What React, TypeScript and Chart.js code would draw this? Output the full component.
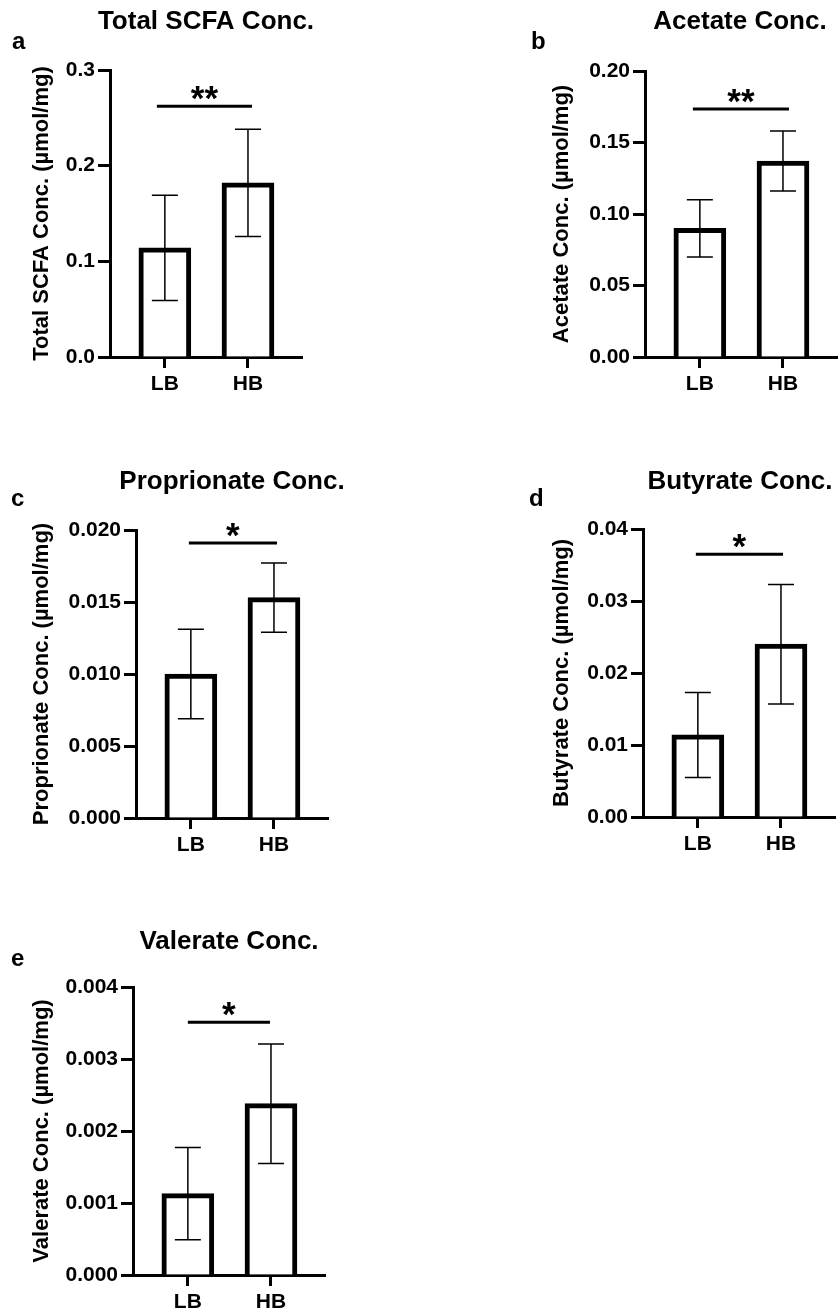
import React, { useEffect, useRef } from 'react';
import { Chart, registerables } from 'chart.js';

Chart.register(...registerables);
Chart.defaults.font.family = '"Liberation Sans", Arial, Helvetica, sans-serif';
Chart.defaults.color = '#000';

// ---------- data ----------
const categories = ['LB', 'HB'];

const totalMeans = [0.114, 0.182];
const totalSD = [0.055, 0.056];
const totalTicks = ['0.0', '0.1', '0.2', '0.3'];

const acetateMeans = [0.090, 0.137];
const acetateSD = [0.020, 0.021];
const acetateTicks = ['0.00', '0.05', '0.10', '0.15', '0.20'];

const propionateMeans = [0.0100, 0.0153];
const propionateSD = [0.0031, 0.0024];
const propionateTicks = ['0.000', '0.005', '0.010', '0.015', '0.020'];

const butyrateMeans = [0.0114, 0.0240];
const butyrateSD = [0.0059, 0.0083];
const butyrateTicks = ['0.00', '0.01', '0.02', '0.03', '0.04'];

const valerateMeans = [0.00113, 0.00238];
const valerateSD = [0.00064, 0.00083];
const valerateTicks = ['0.000', '0.001', '0.002', '0.003', '0.004'];

const panelTitles = ['Total SCFA Conc.', 'Acetate Conc.', 'Proprionate Conc.', 'Butyrate Conc.', 'Valerate Conc.'];
const yTitles = [
  'Total SCFA Conc. (µmol/mg)',
  'Acetate Conc. (µmol/mg)',
  'Proprionate Conc. (µmol/mg)',
  'Butyrate Conc. (µmol/mg)',
  'Valerate Conc. (µmol/mg)',
];
const panelLetters = ['a', 'b', 'c', 'd', 'e'];
const sigLabels = ['**', '**', '*', '*', '*'];
const sigHeights = [0.262, 0.1734, 0.0191, 0.0365, 0.00351];
const sigStarts = [-0.096, -0.084, -0.024, -0.024, 0];
const sigEnds = [1.048, 1.072, 1.036, 1.024, 0.988];

const panelData = [
  { means: totalMeans, sd: totalSD, ticks: totalTicks },
  { means: acetateMeans, sd: acetateSD, ticks: acetateTicks },
  { means: propionateMeans, sd: propionateSD, ticks: propionateTicks },
  { means: butyrateMeans, sd: butyrateSD, ticks: butyrateTicks },
  { means: valerateMeans, sd: valerateSD, ticks: valerateTicks },
];

// ---------- layout (page pixels) ----------
const layouts = [
  { cx: 0, cy: 0, cw: 419, ch: 420, axisX: 110, yTop: 70, y0: 357, titleX: 206, titleY: 29, letterX: 12, letterY: 49, yTitleX: 42 },
  { cx: 419, cy: 0, cw: 419, ch: 420, axisX: 645, yTop: 71, y0: 357, titleX: 740, titleY: 29, letterX: 531, letterY: 49, yTitleX: 562 },
  { cx: 0, cy: 420, cw: 419, ch: 460, axisX: 136, yTop: 530, y0: 818, titleX: 232, titleY: 489, letterX: 11, letterY: 506, yTitleX: 42 },
  { cx: 419, cy: 420, cw: 419, ch: 460, axisX: 643, yTop: 529, y0: 817, titleX: 740, titleY: 489, letterX: 529, letterY: 506, yTitleX: 562 },
  { cx: 0, cy: 880, cw: 419, ch: 432, axisX: 133, yTop: 987, y0: 1275, titleX: 229, titleY: 949, letterX: 11, letterY: 966, yTitleX: 42 },
];

const AXIS_LEN = 192;
const X_BOX = 36;
const FONT = '"Liberation Sans", Arial, Helvetica, sans-serif';

function Panel({ idx }: { idx: number }) {
  const ref = useRef<HTMLCanvasElement | null>(null);

  useEffect(() => {
    const L = layouts[idx];
    const P = panelData[idx];
    const yTitleFont = 22;
    const decor = {
      id: 'decor' + idx,
      afterDatasetsDraw(chart: any) {
        const ctx = chart.ctx;
        const xs = chart.scales.x;
        const ys = chart.scales.y;
        ctx.save();
        ctx.strokeStyle = '#000';
        ctx.fillStyle = '#000';
        ctx.lineWidth = 1.5;
        P.means.forEach((m: number, i: number) => {
          const x = xs.getPixelForValue(i);
          const yh = ys.getPixelForValue(m + P.sd[i]);
          const yl = ys.getPixelForValue(m - P.sd[i]);
          ctx.beginPath();
          ctx.moveTo(x, yh);
          ctx.lineTo(x, yl);
          ctx.moveTo(x - 13, yh);
          ctx.lineTo(x + 13, yh);
          ctx.moveTo(x - 13, yl);
          ctx.lineTo(x + 13, yl);
          ctx.stroke();
        });
        // significance bar
        const sy = ys.getPixelForValue(sigHeights[idx]);
        const sx1 = xs.getPixelForValue(sigStarts[idx]);
        const sx2 = xs.getPixelForValue(sigEnds[idx]);
        ctx.lineWidth = 3;
        ctx.beginPath();
        ctx.moveTo(sx1, sy);
        ctx.lineTo(sx2, sy);
        ctx.stroke();
        ctx.font = `bold 35px ${FONT}`;
        ctx.textAlign = 'center';
        ctx.textBaseline = 'alphabetic';
        ctx.fillText(sigLabels[idx], (sx1 + sx2) / 2, sy + 4);
        // panel title
        ctx.font = `bold 26px ${FONT}`;
        ctx.fillText(panelTitles[idx], L.titleX - L.cx, L.titleY - L.cy);
        // panel letter
        ctx.textAlign = 'left';
        ctx.font = `bold 24px ${FONT}`;
        ctx.fillText(panelLetters[idx], L.letterX - L.cx, L.letterY - L.cy);
        ctx.restore();
      },
    };

    const chart = new Chart(ref.current as HTMLCanvasElement, {
      type: 'bar',
      data: {
        datasets: [
          {
            data: P.means.map((m: number, i: number) => ({ x: i, y: m })),
            backgroundColor: '#fff',
            borderColor: '#000',
            borderWidth: 5,
            barThickness: 52,
            borderSkipped: 'start',
          } as any,
        ],
      },
      options: {
        responsive: false,
        animation: false,
        events: [],
        layout: {
          padding: {
            left: 0,
            top: L.yTop - L.cy,
            right: L.cx + L.cw - (L.axisX + AXIS_LEN),
            bottom: L.cy + L.ch - L.y0 - X_BOX,
          },
        },
        plugins: { legend: { display: false }, tooltip: { enabled: false }, title: { display: false } },
        scales: {
          x: {
            type: 'linear',
            min: -0.66,
            max: 1.65,
            offset: false,
            afterBuildTicks: (s: any) => {
              s.ticks = categories.map((_, i) => ({ value: i }));
            },
            afterFit: (s: any) => {
              s.height = X_BOX;
            },
            ticks: {
              callback: (v: any) => categories[v] ?? '',
              font: { size: 21, weight: 'bold' },
              color: '#000',
              padding: 4,
              maxRotation: 0,
              autoSkip: false,
            },
            grid: { offset: false, drawOnChartArea: false, drawTicks: true, tickLength: 11, tickWidth: 3, tickColor: '#000' },
            border: { display: true, color: '#000', width: 3 },
          } as any,
          y: {
            type: 'linear',
            min: 0,
            max: parseFloat(P.ticks[P.ticks.length - 1]),
            afterBuildTicks: (s: any) => {
              s.ticks = P.ticks.map((t: string) => ({ value: parseFloat(t) }));
            },
            afterFit: (s: any) => {
              s.width = L.axisX - L.cx;
            },
            ticks: {
              callback: (_v: any, i: number) => P.ticks[i],
              font: { size: 21, weight: 'bold' },
              color: '#000',
              padding: 3,
            },
            grid: { drawOnChartArea: false, drawTicks: true, tickLength: 12, tickWidth: 3, tickColor: '#000' },
            border: { display: true, color: '#000', width: 3 },
            title: {
              display: true,
              text: yTitles[idx],
              font: { size: yTitleFont, weight: 'bold' },
              color: '#000',
              padding: { top: L.yTitleX - L.cx - (yTitleFont * 1.2) / 2, bottom: 0 },
            },
          } as any,
        },
      },
      plugins: [decor],
    });
    return () => chart.destroy();
  }, [idx]);

  const L = layouts[idx];
  return (
    <canvas
      ref={ref}
      width={L.cw}
      height={L.ch}
      style={{ position: 'absolute', left: L.cx, top: L.cy, width: L.cw, height: L.ch }}
    />
  );
}

export default function App() {
  return (
    <div style={{ position: 'absolute', left: 0, top: 0, width: 838, height: 1312, background: '#fff', overflow: 'hidden' }}>
      {panelData.map((_, i) => (
        <Panel key={i} idx={i} />
      ))}
    </div>
  );
}
